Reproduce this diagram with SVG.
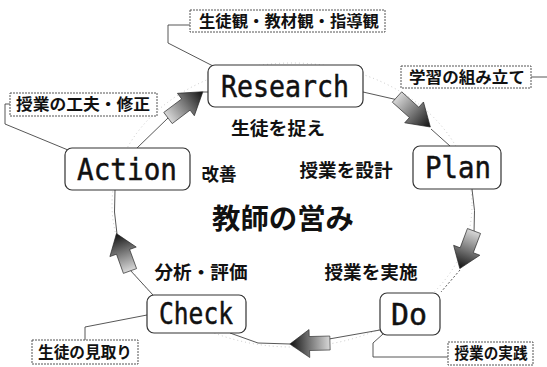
<svg xmlns="http://www.w3.org/2000/svg" width="547" height="367" viewBox="0 0 547 367">
<style>
.node{fill:#fff;stroke:#333;stroke-width:1.2}
.call{fill:#fff;stroke:#555;stroke-width:1;stroke-dasharray:2 1}
.en{font-family:"DejaVu Sans Mono","Liberation Mono",monospace;font-size:31px;fill:#111;stroke:#111;stroke-width:0.5;text-anchor:middle}
.jp{font-family:"Noto Sans CJK JP","Noto Sans",sans-serif;font-weight:700;fill:#111;text-anchor:middle}
.cl{font-size:16px}
.in{font-size:18px}
.conn{fill:none;stroke:#444;stroke-width:0.9}
.faint{fill:none;stroke:#bbb;stroke-width:0.8;stroke-dasharray:1 3}
.arr{fill:url(#g);stroke:#222;stroke-width:0.6}
</style>
<defs>
<linearGradient id="g" x1="0" y1="0" x2="1" y2="0">
<stop offset="0" stop-color="#d8d8d8"/>
<stop offset="0.5" stop-color="#777"/>
<stop offset="1" stop-color="#111"/>
</linearGradient>
<path id="ar" d="M0,-7 L20,-7 L20,-14 L39,0 L20,14 L20,7 L0,7 Z"/>
</defs>
<rect width="547" height="367" fill="#fff"/>
<g id="connectors">
<ellipse class="faint" cx="292" cy="205" rx="180" ry="142"/>
<path class="conn" d="M363,92 L398,100"/>
<path class="conn" d="M431,129 L450,146"/>
<path class="conn" d="M472,189 Q476,210 474,233"/>
<path class="conn" d="M460,270 L441,292" stroke-dasharray="2 2"/>
<path class="conn" d="M380,330 L329,339"/>
<path class="conn" d="M290,344 L258,343 L230,333"/>
<path class="conn" d="M153,295 L130,270"/>
<path class="conn" d="M117,234 Q113,212 115,190"/>
<path class="conn" d="M137,148 L168,118"/>
<path class="conn" d="M203,92 L208,92"/>
<polyline class="conn" points="190,25 168,25 168,43 213,66"/>
<polyline class="conn" points="531,77 547,77"/>
<polyline class="conn" points="10,104 5,104 5,124 68,150"/>
<polyline class="conn" points="85,340 85,327 147,315"/>
<polyline class="conn" points="448,357 373,357 373,343 383,334"/>
<use href="#ar" class="arr" transform="translate(168,118) rotate(-37) scale(1.12,1)"/>
<use href="#ar" class="arr" transform="translate(397,97) rotate(42) scale(1.15,1)"/>
<use href="#ar" class="arr" transform="translate(474,231) rotate(110.7) scale(1.03,1)"/>
<use href="#ar" class="arr" transform="translate(330,343) rotate(178.5) scale(1.03,1)"/>
<use href="#ar" class="arr" transform="translate(130,271) rotate(-109.9) scale(1.02,1)"/>
</g>
<g id="research">
<rect class="node" x="208" y="65" width="155" height="42" rx="7"/>
<text class="en" x="285" y="97" textLength="128" lengthAdjust="spacingAndGlyphs">Research</text>
</g>
<g id="plan">
<rect class="node" x="413" y="146" width="88" height="43" rx="7"/>
<text class="en" x="458" y="178" textLength="66" lengthAdjust="spacingAndGlyphs">Plan</text>
</g>
<g id="do">
<rect class="node" x="380" y="293" width="60" height="42" rx="7"/>
<text class="en" x="409" y="325" textLength="36" lengthAdjust="spacingAndGlyphs">Do</text>
</g>
<g id="check">
<rect class="node" x="147" y="295" width="99" height="38" rx="7"/>
<text class="en" x="196" y="324" textLength="74" lengthAdjust="spacingAndGlyphs">Check</text>
</g>
<g id="action">
<rect class="node" x="65" y="148" width="125" height="42" rx="7"/>
<text class="en" x="127" y="180" textLength="100" lengthAdjust="spacingAndGlyphs">Action</text>
</g>
<g id="callout-research">
<rect class="call" x="190" y="10" width="195" height="22"/>
<text class="jp cl" x="289" y="27" textLength="180" lengthAdjust="spacingAndGlyphs">生徒観・教材観・指導観</text>
</g>
<g id="callout-plan">
<rect class="call" x="401" y="66" width="130" height="22"/>
<text class="jp cl" x="467" y="83" textLength="116" lengthAdjust="spacingAndGlyphs">学習の組み立て</text>
</g>
<g id="callout-action">
<rect class="call" x="10" y="93" width="147" height="23"/>
<text class="jp cl" x="83" y="110" textLength="134" lengthAdjust="spacingAndGlyphs">授業の工夫・修正</text>
</g>
<g id="callout-check">
<rect class="call" x="32" y="340" width="106" height="24"/>
<text class="jp cl" x="85" y="358" textLength="94" lengthAdjust="spacingAndGlyphs">生徒の見取り</text>
</g>
<g id="callout-do">
<rect class="call" x="448" y="342" width="85" height="23"/>
<text class="jp cl" x="491" y="359" textLength="73" lengthAdjust="spacingAndGlyphs">授業の実践</text>
</g>
<g id="labels">
<text class="jp in" x="278" y="135" textLength="94" lengthAdjust="spacingAndGlyphs">生徒を捉え</text>
<text class="jp in" x="219" y="181" textLength="35" lengthAdjust="spacingAndGlyphs">改善</text>
<text class="jp in" x="346" y="177" textLength="93" lengthAdjust="spacingAndGlyphs">授業を設計</text>
<text class="jp" x="283" y="229" font-size="28" textLength="142" lengthAdjust="spacingAndGlyphs">教師の営み</text>
<text class="jp in" x="201" y="279" textLength="93" lengthAdjust="spacingAndGlyphs">分析・評価</text>
<text class="jp in" x="371" y="279" textLength="93" lengthAdjust="spacingAndGlyphs">授業を実施</text>
</g>
</svg>
